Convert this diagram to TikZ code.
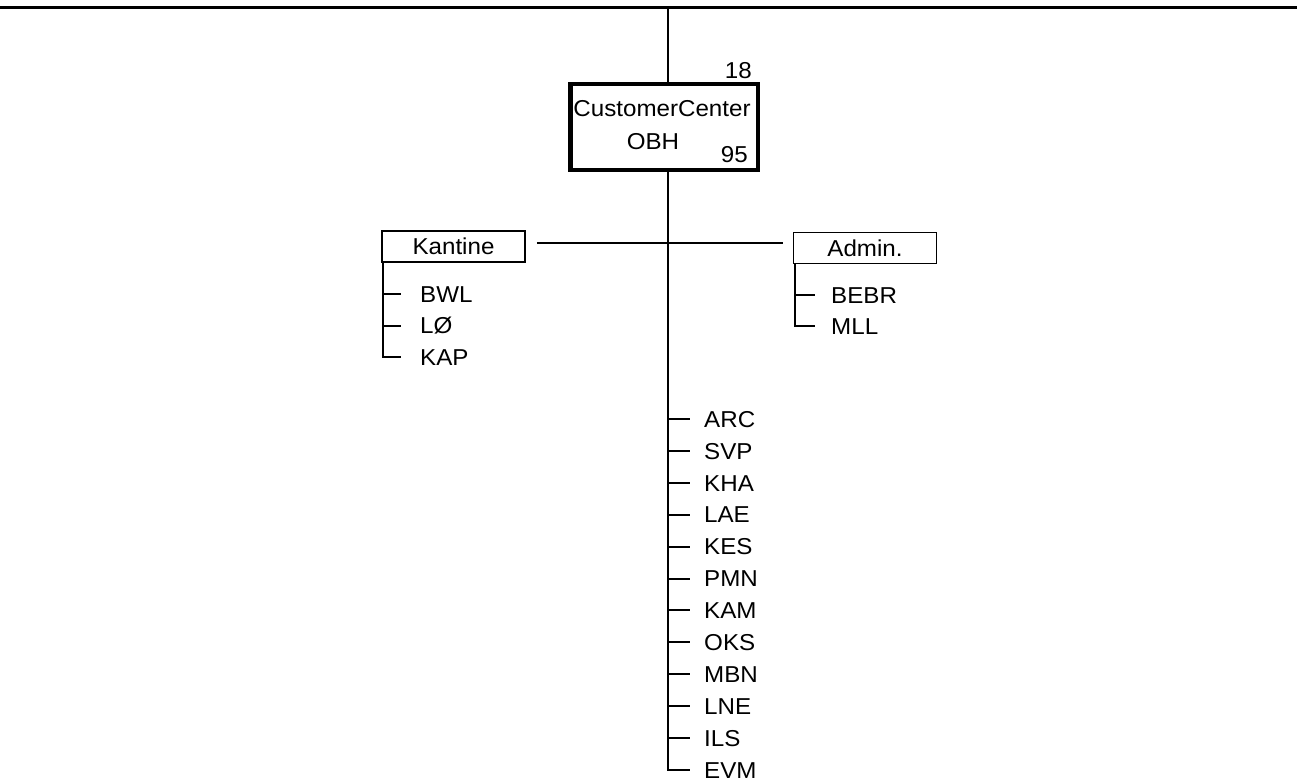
\documentclass[tikz,border=0pt]{standalone}
\usepackage{fontspec}
\setmainfont{Liberation Sans}[FakeStretch=1.05]
\usetikzlibrary{positioning,calc}

\tikzset{
  orgfont/.style={font=\fontsize{23}{27}\selectfont},
  centerbox/.style={draw, line width=4.5pt, minimum width=187.5pt, minimum height=85.5pt, inner sep=0pt},
  deptbox/.style={draw, line width=1.8pt, orgfont, minimum width=143pt, minimum height=31pt, inner sep=0pt},
  member/.style={orgfont, anchor=west, inner sep=0pt, text height=16.5pt, text depth=0pt},
  tree/.style={line width=2pt},
}

\begin{document}
\begin{tikzpicture}[x=1pt, y=-1pt]
  \useasboundingbox (0,0) rectangle (1297,781);

  % main unit
  \coordinate (topL) at (0,8);
  \coordinate (topR) at (1297,8);
  \coordinate (trunk) at (668,8);
  \coordinate (hub) at (668,243);
  \draw[line width=3pt] (topL) -- (topR);
  \node[centerbox] (cc) at (664,127) {};
  \node[orgfont, inner sep=0pt] (ccname) at (662,109) {CustomerCenter};
  \node[orgfont, inner sep=0pt] (ccabbr) at (653,142) {OBH};
  \node[orgfont, anchor=south east, inner sep=0pt] (ccup) at (752,79) {18};
  \node[orgfont, anchor=south east, inner sep=0pt] (ccdown) at (748,163) {95};
  \draw[tree] (trunk) -- (trunk |- cc.north);

  % staff units
  \node[deptbox] (kantine) at (453.5,246.5) {Kantine};
  \node[deptbox] (admin) at (865,248) {Admin.};
  \draw[tree] ($(hub -| kantine.east)+(11,0)$) -- ($(hub -| admin.west)+(-10,0)$);

  \foreach \lbl [count=\i] in {BWL,LØ,KAP} {
    \node[member] (kan\i) at (420,{294+31.5*(\i-1)}) {\lbl};
    \draw[tree] ($(kantine.south west)+(2,0)$) |- ($(kan\i.west)+(-19,0)$);
  }
  \foreach \lbl [count=\i] in {BEBR,MLL} {
    \node[member] (adm\i) at (831,{295+31*(\i-1)}) {\lbl};
    \draw[tree] ($(admin.south west)+(2,0)$) |- ($(adm\i.west)+(-16,0)$);
  }

  % line units
  \foreach \lbl [count=\i] in {ARC,SVP,KHA,LAE,KES,PMN,KAM,OKS,MBN,LNE,ILS,EVM} {
    \node[member] (grp\i) at (704,{419+31.9*(\i-1)}) {\lbl};
    \draw[tree] (trunk |- cc.south) |- ($(grp\i.west)+(-14,0)$);
  }
\end{tikzpicture}
\end{document}
